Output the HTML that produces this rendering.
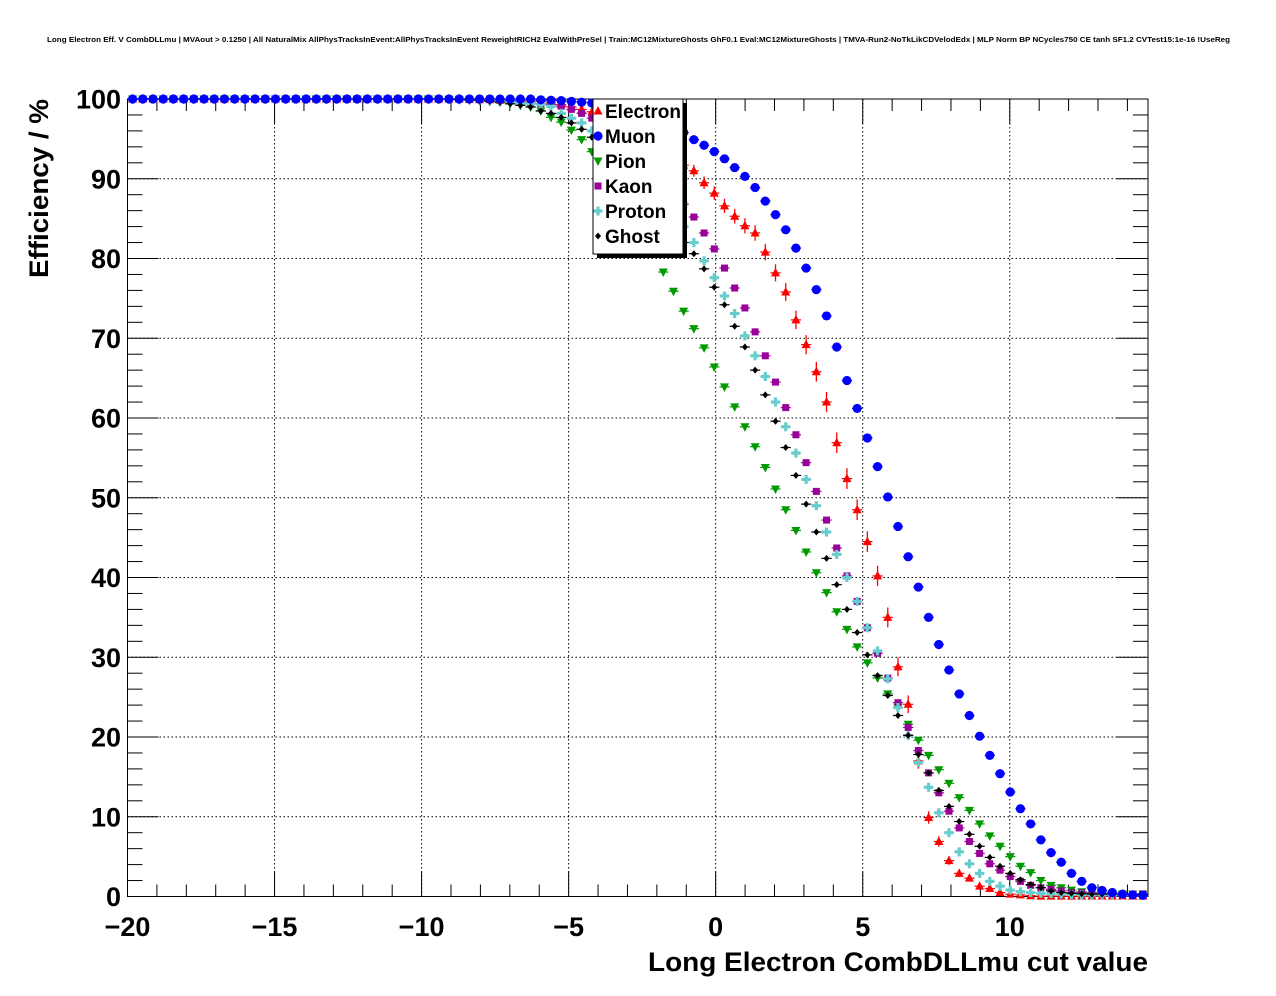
<!DOCTYPE html>
<html><head><meta charset="utf-8"><style>
html,body{margin:0;padding:0;background:#fff;}
svg{display:block;font-family:"Liberation Sans",Arial,sans-serif;}
</style></head><body>
<svg id="chart" width="1276" height="996" viewBox="0 0 1276 996" xmlns="http://www.w3.org/2000/svg">
<rect x="0" y="0" width="1276" height="996" fill="#fff"/>
<text x="47" y="42" font-size="7.6" font-weight="bold" textLength="1183" lengthAdjust="spacingAndGlyphs">Long Electron Eff. V CombDLLmu | MVAout &gt; 0.1250 | All NaturalMix AllPhysTracksInEvent:AllPhysTracksInEvent ReweightRICH2 EvalWithPreSel | Train:MC12MixtureGhosts GhF0.1 Eval:MC12MixtureGhosts | TMVA-Run2-NoTkLikCDVelodEdx | MLP Norm BP NCycles750 CE tanh SF1.2 CVTest15:1e-16 !UseReg</text>
<g id="grid"></g>
<g id="axes"></g>
<g id="marks"></g>
<text x="48" y="278" transform="rotate(-90 48 278)" font-size="27" font-weight="bold" textLength="179" lengthAdjust="spacingAndGlyphs">Efficiency / %</text>
<text x="1148" y="971" text-anchor="end" font-size="27" font-weight="bold" textLength="500" lengthAdjust="spacingAndGlyphs">Long Electron CombDLLmu cut value</text>
<g id="legend">
<rect x="597" y="103" width="90" height="155" fill="#000"/>
<rect x="593" y="99" width="90" height="155" fill="#fff" stroke="#000" stroke-width="1"/>
</g>
</svg>
<script>
// ---- data ----
const xMin = -20, xMax = 14.7, nBins = 100;
const yTicks = [0,10,20,30,40,50,60,70,80,90,100];
const xTicks = [-20,-15,-10,-5,0,5,10];
const seriesNames = ["Electron","Muon","Pion","Kaon","Proton","Ghost"];
const electron = [100,100,100,100,100,100,100,100,100,100,100,100,100,100,100,100,100,100,100,100,100,100,100,100,100,100,100,100,100,100,
100,100,100,99.95,99.9,99.9,99.85,99.8,99.8,99.75,
99.7,99.5,99.3,99.0,98.7,98.4,97.9,97.3,96.6,95.9,95.0,94.1,93.2,92.4,91.7,91.0,89.5,88.2,86.6,85.3,84.1,83.2,80.8,78.2,75.8,72.3,69.2,65.8,62.0,56.9,52.4,48.5,44.5,40.2,35.0,28.8,24.1,17.0,9.9,6.9,4.5,2.9,2.3,1.3,1.0,0.5,0.3,0.2,0.1,
0.05,0.05,0.05,0.05,0.05,0.05,0.05,0.05,0.05,0.05,0.05];
const muon = [100,100,100,100,100,100,100,100,100,100,100,100,100,100,100,100,100,100,100,100,100,100,100,100,100,100,100,100,100,100,100,100,100,100,100,100,100,100,100,100,
99.9,99.85,99.8,99.7,99.6,99.5,99.4,99.2,99.0,98.7,98.3,97.8,97.2,96.6,95.8,94.9,94.2,93.4,92.5,91.4,90.3,88.9,87.2,85.5,83.6,81.3,78.8,76.1,72.8,68.9,64.7,61.2,57.5,53.9,50.1,46.4,42.6,38.8,35.0,31.6,28.4,25.4,22.7,20.1,17.7,15.4,13.1,11.0,9.1,7.1,5.5,4.3,2.9,1.9,1.1,0.75,0.5,0.3,0.2,0.15];
const pion = [100,100,100,100,100,100,100,100,100,100,100,100,100,100,100,100,100,100,100,100,100,100,100,100,100,100,100,100,100,100,100,
99.95,99.9,99.85,99.8,99.7,99.6,99.4,99.2,99.0,98.5,97.7,97.1,96.1,94.9,93.4,91.6,89.7,87.6,85.4,83.1,80.7,78.3,75.9,73.4,71.2,68.8,66.4,63.9,61.4,58.9,56.4,53.8,51.1,48.5,45.9,43.2,40.6,38.1,35.7,33.5,31.3,29.3,27.4,25.4,23.7,21.6,19.6,17.7,15.9,14.2,12.4,10.8,9.1,7.6,6.3,5.0,3.8,3.0,2.0,1.4,1.1,0.8,0.6,0.5,0.4,0.35,0.3,0.3,0.25];
const kaon = [100,100,100,100,100,100,100,100,100,100,100,100,100,100,100,100,100,100,100,100,100,100,100,100,100,100,100,100,100,100,100,100,100,100,100,100,
99.9,99.8,99.7,99.5,99.4,99.3,99.1,98.7,98.2,97.6,96.8,95.8,94.6,93.2,92.0,90.6,89.3,88.0,86.8,85.2,83.2,81.2,78.8,76.3,73.8,70.8,67.8,64.5,61.3,57.9,54.4,50.8,47.2,43.7,40.2,37.0,33.7,30.5,27.4,24.3,21.2,18.3,15.5,13.0,10.7,8.6,6.9,5.4,4.1,3.3,2.5,1.9,1.4,1.1,0.9,0.7,0.5,0.45,0.4,0.35,0.3,0.3,0.3,0.35];
const proton = [100,100,100,100,100,100,100,100,100,100,100,100,100,100,100,100,100,100,100,100,100,100,100,100,100,100,100,100,100,100,100,100,100,100,
99.9,99.8,99.7,99.6,99.5,99.4,99.3,99.1,98.2,97.6,97.0,96.0,95.0,94.0,92.9,91.6,90.2,88.7,87.2,85.6,84.0,82.0,79.7,77.6,75.3,73.1,70.3,67.8,65.2,62.0,58.9,55.6,52.3,49.0,45.7,42.9,40.0,37.0,33.7,30.8,27.3,23.7,20.2,16.8,13.7,10.5,8.0,5.6,4.1,2.9,1.9,1.3,0.8,0.6,0.5,0.4,0.35,0.3,0.25,0.2,0.2,0.2,0.2,0.2,0.2,0.2];
const ghost = [100,100,100,100,100,100,100,100,100,100,100,100,100,100,100,100,100,100,100,100,100,100,100,100,100,100,100,100,100,100,100,100,
99.95,99.9,99.8,99.7,99.6,99.4,99.2,99.0,98.5,98.2,97.7,97.0,96.2,95.2,94.1,92.9,91.5,90.0,88.4,86.8,85.1,83.5,82.0,80.6,78.7,76.4,74.2,71.5,68.9,66.0,62.9,59.6,56.3,52.8,49.2,45.7,42.4,39.1,36.0,33.1,30.3,27.7,25.2,22.7,20.2,17.8,15.5,13.3,11.3,9.4,7.8,6.3,4.9,3.8,2.9,2.1,1.5,1.1,0.7,0.5,0.4,0.35,0.3,0.3,0.3,0.3,0.3,0.3];

// ---- layout ----
const L=127.5, R=1148, T=99, B=896.5;
const NS="http://www.w3.org/2000/svg";
function xs(v){return L+(v-xMin)/(xMax-xMin)*(R-L);}
function ys(v){return B-v/100*(B-T);}
function binX(i){return xMin+(i+0.5)*(xMax-xMin)/nBins;}
function mk(tag,attrs,parent){const e=document.createElementNS(NS,tag);for(const k in attrs)e.setAttribute(k,attrs[k]);parent.appendChild(e);return e;}

const grid=document.getElementById('grid'), axes=document.getElementById('axes'), marks=document.getElementById('marks');
xTicks.forEach(t=>{if(t===xMin)return;const l=mk('line',{x1:xs(t),x2:xs(t),y1:T,y2:B,stroke:'#000','stroke-width':1,'stroke-dasharray':'1.5,2.5'},grid);

});
yTicks.forEach(t=>{if(t===0||t===100)return;const l=mk('line',{x1:L,x2:R,y1:ys(t),y2:ys(t),stroke:'#000','stroke-width':1,'stroke-dasharray':'1.5,2.5'},grid);

});
const fr=mk('rect',{x:L,y:T,width:R-L,height:B-T,fill:'none',stroke:'#000','stroke-width':1},axes);


for(let v=-20;v<=14;v++){const maj=(v%5===0);const len=maj?25:12;const x=xs(v);
mk('line',{x1:x,x2:x,y1:B,y2:B-len,stroke:'#000','stroke-width':1},axes);
mk('line',{x1:x,x2:x,y1:T,y2:T+len,stroke:'#000','stroke-width':1},axes);}
for(let v=0;v<=100;v+=2){const maj=(v%10===0);const len=maj?31:15;const y=ys(v);
mk('line',{x1:L,x2:L+len,y1:y,y2:y,stroke:'#000','stroke-width':1},axes);
mk('line',{x1:R,x2:R-len,y1:y,y2:y,stroke:'#000','stroke-width':1},axes);}
xTicks.forEach(t=>{const e=mk('text',{x:xs(t),y:936,'text-anchor':'middle','font-size':27,'font-weight':'bold'},axes);e.textContent=(t<0?'\u2212'+(-t):String(t));

});
yTicks.forEach(t=>{const e=mk('text',{x:121,y:ys(t)+9.5,'text-anchor':'end','font-size':27,'font-weight':'bold'},axes);e.textContent=String(t);

});

function marker(kind,cx,cy,color,g){
  if(kind==='tri-up') mk('polygon',{points:`${cx},${cy-5} ${cx-4.5},${cy+3.5} ${cx+4.5},${cy+3.5}`,fill:color},g);
  else if(kind==='circle') mk('circle',{cx:cx,cy:cy,r:4.6,fill:color},g);
  else if(kind==='tri-down') mk('polygon',{points:`${cx-4.5},${cy-3.5} ${cx+4.5},${cy-3.5} ${cx},${cy+5}`,fill:color},g);
  else if(kind==='square') mk('rect',{x:cx-3.5,y:cy-3.5,width:7,height:7,fill:color},g);
  else if(kind==='cross'){mk('rect',{x:cx-4.5,y:cy-1.6,width:9,height:3.2,fill:color},g);mk('rect',{x:cx-1.6,y:cy-4.5,width:3.2,height:9,fill:color},g);}
  else if(kind==='diamond') mk('polygon',{points:`${cx},${cy-3.5} ${cx+3},${cy} ${cx},${cy+3.5} ${cx-3},${cy}`,fill:color},g);
}
const halfW=(R-L)/nBins/2;
function drawSeries(vals,kind,color,name,errScale){
  const g=mk('g',{},marks);
  
  
  vals.forEach((v,i)=>{const cx=xs(binX(i)), cy=ys(v);
    mk('line',{x1:cx-halfW,x2:cx+halfW,y1:cy,y2:cy,stroke:color,'stroke-width':1.2},g);
    if(errScale){const p=v/100;const e=errScale*Math.sqrt(Math.max(p*(1-p),0));if(e>0.15){mk('line',{x1:cx,x2:cx,y1:ys(v+e),y2:ys(v-e),stroke:color,'stroke-width':1.3},g);}}
    marker(kind,cx,cy,color,g);});
}
drawSeries(electron,'tri-up','#ff0000','electron',2.6);
drawSeries(pion,'tri-down','#009900','pion',0);
drawSeries(kaon,'square','#990099','kaon',0);
drawSeries(proton,'cross','#66cccc','proton',0);
drawSeries(ghost,'diamond','#000000','ghost',0);
drawSeries(muon,'circle','#0000ff','muon',0);

const leg=document.getElementById('legend');
const legKinds=['tri-up','circle','tri-down','square','cross','diamond'];
const legColors=['#ff0000','#0000ff','#009900','#990099','#66cccc','#000000'];
seriesNames.forEach((n,i)=>{const y=111+i*25;const g=mk('g',{},leg);
  
  
  marker(legKinds[i],598,y,legColors[i],g);
  const t=mk('text',{x:605,y:y+7,'font-size':19,'font-weight':'bold'},g);t.textContent=n;});
</script>
</body></html>
